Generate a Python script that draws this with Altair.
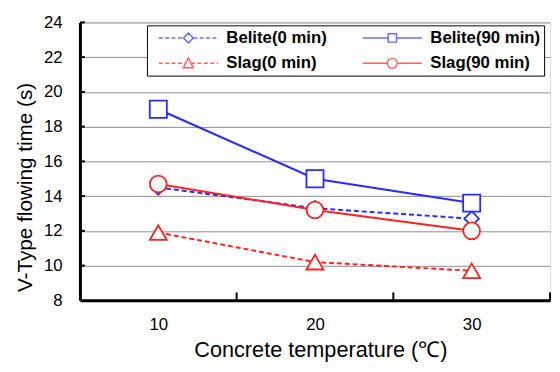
import altair as alt
import pandas as pd

# ---- data ----
temps = [10, 20, 30]
belite_0 = [14.5, 13.3, 12.7]
belite_90 = [19.0, 15.0, 13.6]
slag_0 = [11.9, 10.2, 9.7]
slag_90 = [14.7, 13.2, 12.0]
series_names = ["Belite(0 min)", "Belite(90 min)", "Slag(0 min)", "Slag(90 min)"]
y_ticks = [8, 10, 12, 14, 16, 18, 20, 22, 24]
x_labels = [10, 20, 30]
x_inner_ticks = [15, 25, 35]

BLUE = "#2a2aff"
RED = "#ff2222"
FONT = "Liberation Sans"

values = {
    "Belite(0 min)": belite_0,
    "Belite(90 min)": belite_90,
    "Slag(0 min)": slag_0,
    "Slag(90 min)": slag_90,
}
rows = []
for name in series_names:
    for t, v in zip(temps, values[name]):
        rows.append({"temp": t, "value": v, "series": name})
df = pd.DataFrame(rows)

style = {
    "Belite(0 min)": dict(color=BLUE, dash=[5, 3], shape="diamond", size=220, half=1.0,
                          marker="M0,-1L1,0L0,1L-1,0Z"),
    "Belite(90 min)": dict(color=BLUE, dash=None, shape="square", size=300, half=0.85,
                           marker="M-0.85,-0.85L0.85,-0.85L0.85,0.85L-0.85,0.85Z"),
    "Slag(0 min)": dict(color=RED, dash=[5, 3], shape="triangle-up", size=300, half=0.55,
                        marker="M0,-1.1L1,0.9L-1,0.9Z"),
    "Slag(90 min)": dict(color=RED, dash=None, shape="circle", size=290, half=1.0,
                         marker="M1,0A1,1,0,1,1,-1,0A1,1,0,1,1,1,0Z"),
}


def seg_path(a, b, dashed):
    """line from a to b (a<b) along y=0, dashed or solid"""
    if not dashed:
        return f"M{a:.2f},0L{b:.2f},0"
    out = []
    x = a
    while x < b - 0.05:
        e = min(x + 0.8, b)
        out.append(f"M{x:.2f},0L{e:.2f},0")
        x = e + 0.5
    return "".join(out)


def legend_path(name):
    s = style[name]
    dashed = s["dash"] is not None
    p = "M-7.6,0L-7.6,0"  # zero-length (invisible) segment: left breathing room in legend box
    p += seg_path(-6, -s["half"], dashed)
    p += seg_path(s["half"], 6, dashed)
    p += s["marker"]
    return p


legend_paths = [legend_path(n) for n in series_names]
legend_colors = [style[n]["color"] for n in series_names]

x_enc = alt.X(
    "temp:Q",
    scale=alt.Scale(domain=[5, 35], nice=False),
    axis=alt.Axis(values=x_labels, tickCount=20, title="Concrete temperature (℃)", grid=False,
                  ticks=False, tickSize=0, labelPadding=17, titlePadding=7, titleX=244,
                  domainColor="black", domainWidth=3, labelFontSize=17,
                  titleFontSize=22, titleFontWeight="normal", labelColor="black",
                  titleColor="black", labelFont=FONT, titleFont=FONT),
)
y_enc = alt.Y(
    "value:Q",
    scale=alt.Scale(domain=[8, 24], nice=False),
    axis=alt.Axis(values=y_ticks, tickCount=20, title="V-Type flowing time (s)", grid=True,
                  gridColor="#8c8c8c", gridWidth=1, ticks=False, tickSize=0,
                  labelPadding=18, titlePadding=8, titleY=167, domainColor="black",
                  domainWidth=3, labelFontSize=17, titleFontSize=21,
                  titleFontWeight="normal", labelColor="black", titleColor="black",
                  labelFont=FONT, titleFont=FONT, labelOverlap=False),
)

base = alt.Chart(df)
layers = []
for name in series_names:
    s = style[name]
    kw = dict(color=s["color"], strokeWidth=2)
    if s["dash"]:
        kw["strokeDash"] = s["dash"]
    layers.append(
        base.transform_filter(alt.datum.series == name)
        .mark_line(**kw)
        .encode(x=x_enc, y=y_enc)
    )

for name in ["Belite(0 min)", "Slag(0 min)", "Belite(90 min)", "Slag(90 min)"]:
    s = style[name]
    layers.append(
        base.transform_filter(alt.datum.series == name)
        .mark_point(shape=s["shape"], size=s["size"], filled=False, fill="white",
                    fillOpacity=1, stroke=s["color"], strokeWidth=1.8, opacity=1)
        .encode(x="temp:Q", y="value:Q")
    )

# inward tick marks
ytick_df = pd.DataFrame({"value": y_ticks[1:]})
layers.append(
    alt.Chart(ytick_df).mark_rule(color="black", strokeWidth=2)
    .encode(y="value:Q", x=alt.value(0), x2=alt.value(5))
)
xtick_df = pd.DataFrame({"temp": x_inner_ticks})
layers.append(
    alt.Chart(xtick_df).mark_rule(color="black", strokeWidth=2)
    .encode(x="temp:Q", y=alt.value(282), y2=alt.value(274))
)

legend_kw = dict(
    orient="none", legendX=68, legendY=3, columns=2, direction="horizontal", title=None,
    symbolSize=100, symbolStrokeWidth=1.5, symbolOffset=29.5, labelOffset=30,
    labelFont=FONT, labelFontSize=17, labelFontWeight="bold", labelColor="black",
    labelExpr="datum.label + '\u00a0\u00a0'",
    strokeColor="black", fillColor="white", padding=4, columnPadding=25,
    rowPadding=8, labelLimit=300,
)
legend_layer = (
    base.transform_filter("false")
    .mark_point(filled=False, strokeWidth=1.5, size=100)
    .encode(
        x="temp:Q", y="value:Q",
        color=alt.Color("series:N", scale=alt.Scale(domain=series_names, range=legend_colors),
                        legend=alt.Legend(**legend_kw)),
        shape=alt.Shape("series:N", scale=alt.Scale(domain=series_names, range=legend_paths),
                        legend=alt.Legend(**legend_kw)),
    )
)
layers.append(legend_layer)

chart = (
    alt.layer(*layers)
    .properties(width=477, height=282,
                autosize=alt.AutoSizeParams(type="none"),
                padding={"left": 73, "top": 12, "right": 2, "bottom": 62})
    .configure_view(stroke="#8c8c8c", strokeWidth=1)
    .configure(background="white")
)

chart.save("out.html", embed_options={"renderer": "svg", "actions": False})
